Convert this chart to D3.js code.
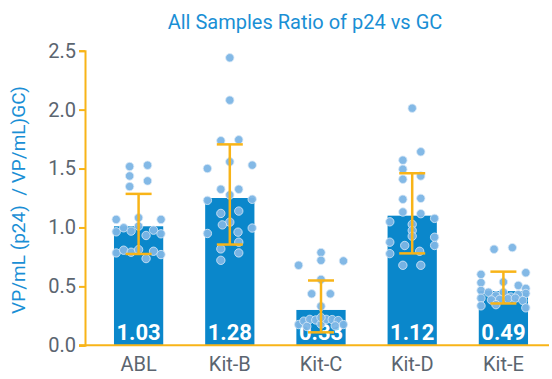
<!DOCTYPE html>
<html><head><meta charset="utf-8">
<script src="https://cdn.jsdelivr.net/npm/d3@7"></script>
<style>html,body{margin:0;padding:0;background:#fff}svg{display:block}text{font-family:Roboto,"Noto Sans",sans-serif}</style>
</head><body><svg id="c" width="552" height="379"></svg>
<script>
const categories = ["ABL","Kit-B","Kit-C","Kit-D","Kit-E"];
const barValues = [1.01, 1.25, 0.30, 1.10, 0.46];
const meanValues = [1.03, 1.28, 0.33, 1.12, 0.49];
const meanLabels = ["1.03","1.28","0.33","1.12","0.49"];
const sdValues = [0.255, 0.425, 0.22, 0.34, 0.135];
const yTicks = [0, 0.5, 1.0, 1.5, 2.0, 2.5];
// individual samples: [jitter lane, value]
const ablPoints = [[-1.2,1.517],[1.2,1.528],[-1.2,1.437],[1.2,1.395],[-1.2,1.347],
  [-3,1.068],[0,1.083],[3,1.068],
  [-3,0.963],[-2,0.997],[-1,0.969],[0,1.011],[1,0.932],[2,0.977],[3,0.946],
  [-3,0.784],[-2,0.807],[-1,0.79],[0,0.812],[1,0.736],[2,0.798],[3,0.77]];
const kitBPoints = [[0,2.44],[0,2.08],[-1.2,1.736],[1.2,1.744],[-3,1.50],[0,1.557],[3,1.529],
  [-1.2,1.324],[1.2,1.324],[0,1.276],[-3,1.23],[3,1.239],[-1.2,1.119],[1.2,1.139],[0,1.045],
  [-1,1.022],[3,0.995],[-3,0.949],[1.1,0.96],[1.2,0.875],[-1.2,0.818],[1.2,0.784],[-1.2,0.721]];
const kitCPoints = [[0,0.787],[-3,0.679],[0,0.721],[3,0.716],[0,0.559],[-1.25,0.437],[1.25,0.437],[0,0.332],
  [-3,0.176],[-2.3,0.205],[-1.5,0.22],[-0.7,0.215],[0,0.18],[0.7,0.22],[1.5,0.218],[2.3,0.21],[3,0.176],
  [-1.9,0.16],[1.9,0.165],[0,0.235]];
const kitDPoints = [[0,2.012],[1.15,1.642],[-1.25,1.571],[-1.25,1.494],[1.15,1.437],[-1.25,1.409],
  [-1.25,1.239],[1.15,1.247],[-1.25,1.131],[1.15,1.117],[3,1.077],[-3,1.048],[0,1.026],[0,0.974],
  [0,0.926],[-3,0.875],[3,0.917],[3,0.847],[-1,0.847],[-3,0.778],[1,0.798],[-1.25,0.679],[1.15,0.679]];
const kitEPoints = [[-1.25,0.815],[1.2,0.829],[-3,0.602],[3,0.616],[-3,0.531],[0,0.537],[2,0.508],[-3,0.465],[3,0.482],
  [3,0.44],[-2,0.45],[-1,0.42],[0,0.45],[1,0.41],[2,0.43],[-3,0.40],[-1.6,0.385],[-0.5,0.39],[0.6,0.395],[1.6,0.4],[2.6,0.38],
  [-3,0.335],[3,0.318],[-1,0.345]];
const allPoints = [ablPoints, kitBPoints, kitCPoints, kitDPoints, kitEPoints];

const gold = "#f8b418", barBlue = "#0a87cb", dotBlue = "#7cb5e5", textBlue = "#1a8fd5", tickGray = "#5b6570";
const svg = d3.select("#c");
const x = d3.scaleBand().domain(categories).range([93, 549]).paddingInner(0.46).paddingOuter(0.23);
const y = d3.scaleLinear().domain([0, 2.5]).range([345.3, 50.7]);
const lane = d3.scaleLinear().domain([-3, 3]).range([-x.bandwidth()*0.455, x.bandwidth()*0.455]);

// title
svg.append("text").attr("x", 305).attr("y", 29).attr("text-anchor","middle")
  .attr("fill", textBlue).style("font-size","20px").text("All Samples Ratio of p24 vs GC");
// y label
svg.append("text").attr("transform","translate(25,200) rotate(-90)").attr("text-anchor","middle")
  .attr("fill", textBlue).style("font-size","19px").style("white-space","pre").text("VP/mL (p24)  / VP/mL)GC)");

// bars
svg.selectAll("rect.bar").data(categories).join("rect").attr("class","bar")
  .attr("x", d => x(d)).attr("width", x.bandwidth())
  .attr("y", (d,i) => y(barValues[i])).attr("height", (d,i) => y(0) - y(barValues[i]))
  .attr("fill", barBlue);

// value labels
svg.selectAll("text.val").data(categories).join("text").attr("class","val")
  .attr("x", d => x(d) + x.bandwidth()/2).attr("y", 339.5).attr("text-anchor","middle")
  .attr("fill","#fff").style("font-size","22px").style("font-weight","700")
  .text((d,i) => meanLabels[i]);

// points
categories.forEach((c, i) => {
  const cx = x(c) + x.bandwidth()/2;
  svg.append("g").selectAll("circle").data(allPoints[i]).join("circle")
    .attr("cx", d => cx + lane(d[0])).attr("cy", d => y(d[1])).attr("r", 4.2)
    .attr("fill", dotBlue).attr("fill-opacity", 0.95)
    .attr("stroke", "#dbeaf7").attr("stroke-width", 1).attr("stroke-opacity", 0.8);
});

// error bars
const eb = svg.append("g").attr("stroke", gold).attr("stroke-width", 2.5).attr("fill","none");
categories.forEach((c, i) => {
  const cx = x(c) + x.bandwidth()/2, hi = y(meanValues[i] + sdValues[i]), lo = y(meanValues[i] - sdValues[i]);
  eb.append("line").attr("x1", cx).attr("x2", cx).attr("y1", hi).attr("y2", lo);
  eb.append("line").attr("x1", cx-13).attr("x2", cx+13).attr("y1", hi).attr("y2", hi);
  eb.append("line").attr("x1", cx-13).attr("x2", cx+13).attr("y1", lo).attr("y2", lo);
});

// y axis
const ya = svg.append("g").attr("transform","translate(85,0)")
  .call(d3.axisLeft(y).tickValues(yTicks).tickFormat(d3.format(".1f")).tickSize(6).tickPadding(3));
ya.selectAll("path,line").attr("stroke", gold).attr("stroke-width", 2);
ya.selectAll("text").attr("fill", tickGray).style("font-size","20px").style("font-family","Roboto");

// x axis
const xa = svg.append("g").attr("transform","translate(0,345.3)")
  .call(d3.axisBottom(x).tickSize(0).tickPadding(12));
xa.select("path").attr("d","M79,0H549").attr("stroke", gold).attr("stroke-width", 2);
xa.selectAll("text").attr("fill", tickGray).style("font-size","20px").style("font-family","Roboto");
</script></body></html>
